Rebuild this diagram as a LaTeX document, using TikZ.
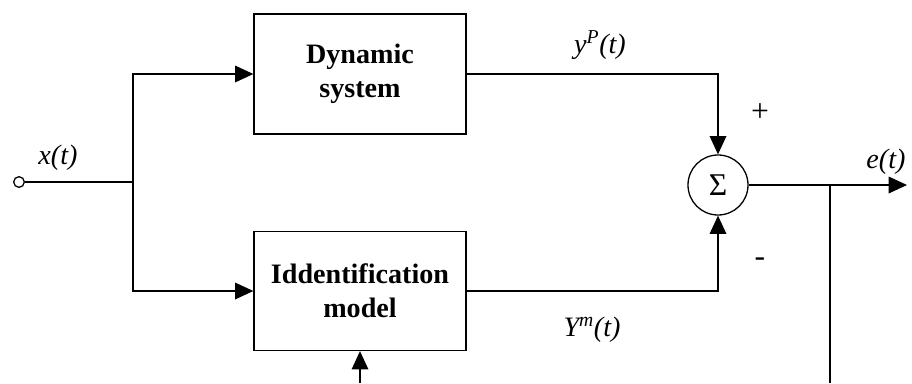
\documentclass[tikz,border=0pt]{standalone}
\usepackage{fontspec}
\setmainfont{Liberation Serif}
\usetikzlibrary{arrows.meta,positioning,calc}

\tikzset{
  block/.style={draw, line width=1.1pt, minimum width=6.36cm, minimum height=3.6cm,
    align=center, font=\fontsize{24}{29}\selectfont\bfseries},
  arr/.style={-{Triangle[length=0.55cm,width=0.5cm]}},
  lbl/.style={font=\fontsize{24}{28}\selectfont\itshape},
  sign/.style={font=\fontsize{27}{27}\selectfont}
}

\begin{document}
\begin{tikzpicture}[x=0.03cm, y=-0.03cm, line width=1.1pt]

\useasboundingbox (0,0) rectangle (912,383);

% Input terminal and branch point
\node[draw, circle, minimum size=0.32cm, inner sep=0pt] (in) at (19,182) {};
\coordinate (split) at (133,182);

% Blocks
\node[block] (dyn) at (360,74) {Dynamic\\system};
\node[block, minimum height=3.57cm] (idm) at (360,291) {Iddentification\\model};

% Summing junction
\node[draw, circle, minimum size=1.8cm, inner sep=0pt,
  font=\fontsize{27}{27}\selectfont] (sum) at (718,185) {Σ};

% Output and feedback points
\coordinate (out) at (907,185);
\coordinate (fbr) at (830,185);
\coordinate (fbrb) at (830,383);
\coordinate (fblb) at (idm.south |- fbrb);

% Signal lines
\draw (in) -- (split);
\draw[arr] (split) |- (dyn.west);
\draw[arr] (split) |- (idm.west);
\draw[arr] (dyn.east) -| (sum.north);
\draw[arr] (idm.east) -| (sum.south);
\draw[arr] (sum.east) -- (out);
\draw (fbr) -- (fbrb);
\draw[arr] (fblb) -- (idm.south);

% Labels
\node[lbl] (xlab) at (58,158) {x(t)};
\node[lbl] (yplab) at (600,45) {y\textsuperscript{P}(t)};
\node[lbl] (ymlab) at (592,330) {Y\textsuperscript{m}(t)};
\node[lbl] (elab) at (886,162) {e(t)};
\node[sign] (plus) at (760,113) {+};
\node[sign] (minus) at (760,262) {-};

\end{tikzpicture}
\end{document}
